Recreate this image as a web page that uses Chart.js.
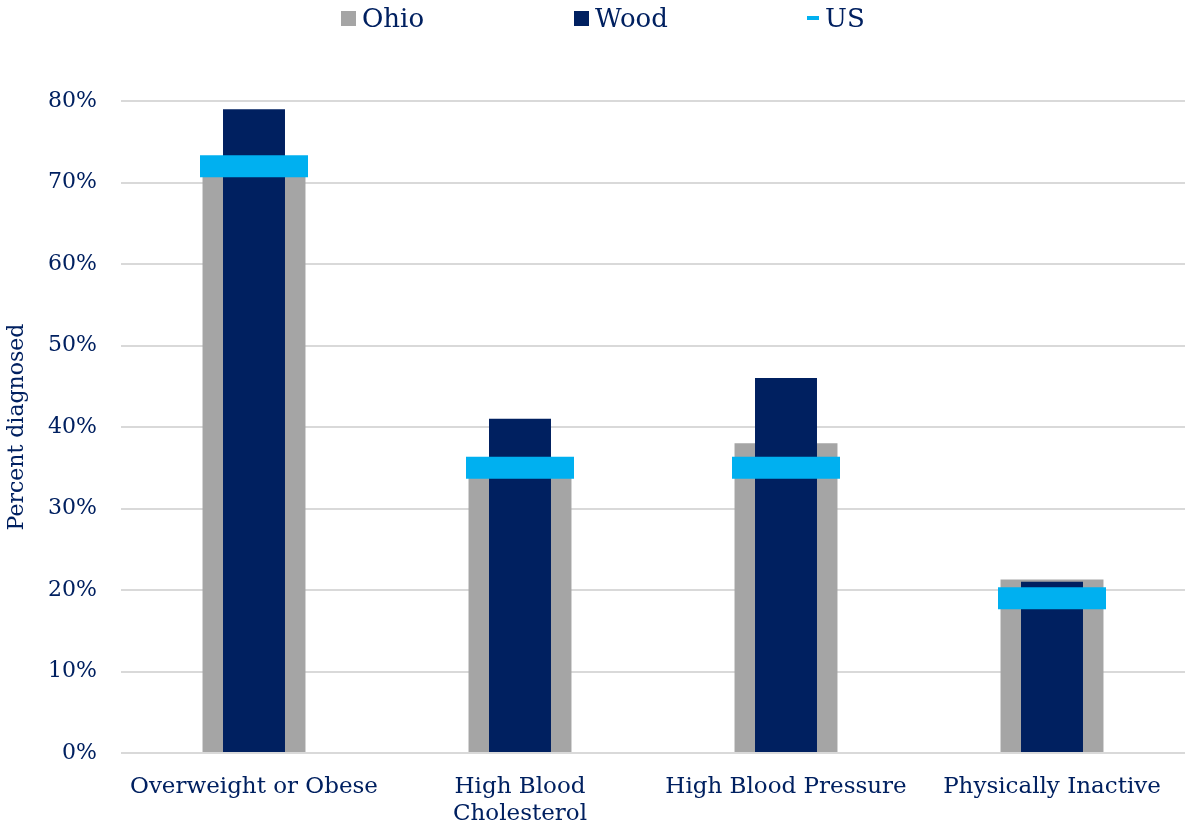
<!DOCTYPE html>
<html>
<head>
<meta charset="utf-8">
<script src="https://cdn.jsdelivr.net/npm/chart.js@4.4.1/dist/chart.umd.min.js"></script>
<style>
  html, body { margin: 0; padding: 0; background: #fff; }
  #wrap { position: relative; width: 1185px; height: 829px; }
  #legend {
    position: absolute; top: 0; left: 341px; height: 36px;
    display: flex; align-items: center;
    font-family: "DejaVu Serif", serif; font-size: 26px; color: #002060;
  }
  #legend .item { width: 233px; display: flex; align-items: center; }
  #legend .swatch { width: 15px; height: 15px; margin-right: 6px; }
  #legend .swatch.dash { width: 12px; height: 4px; }
</style>
</head>
<body>
<div id="wrap">
  <canvas id="chart" width="1185" height="829"></canvas>
  <div id="legend"></div>
</div>
<script>
const categories = ['Overweight or Obese', ['High Blood', 'Cholesterol'], 'High Blood Pressure', 'Physically Inactive'];
const ohioValues = [71, 34, 38, 21.3];
const woodValues = [79, 41, 46, 21];
const usValues = [72, 35, 35, 19];
const seriesNames = ['Ohio', 'Wood', 'US'];

const TEXT = '#002060';
const OHIO = '#a5a5a5';
const WOOD = '#002060';
const US = '#00b0f0';
const FONT = '"DejaVu Serif", serif';

// legend drawn as html so the three entries sit on an even spacing
const legendEl = document.getElementById('legend');
[[seriesNames[0], OHIO, false], [seriesNames[1], WOOD, false], [seriesNames[2], US, true]].forEach(([name, color, dash]) => {
  const item = document.createElement('div');
  item.className = 'item';
  const sw = document.createElement('span');
  sw.className = 'swatch' + (dash ? ' dash' : '');
  sw.style.background = color;
  const label = document.createElement('span');
  label.textContent = name;
  item.appendChild(sw);
  item.appendChild(label);
  legendEl.appendChild(item);
});

const ctx = document.getElementById('chart').getContext('2d');

new Chart(ctx, {
  type: 'bar',
  data: {
    labels: categories,
    datasets: [
      {
        label: seriesNames[0],
        data: ohioValues,
        backgroundColor: OHIO,
        grouped: false,
        categoryPercentage: 1,
        barPercentage: 0.387,
        order: 2,
      },
      {
        label: seriesNames[1],
        data: woodValues,
        backgroundColor: WOOD,
        grouped: false,
        categoryPercentage: 1,
        barPercentage: 0.233,
        order: 1,
      },
      {
        // US benchmark shown as a thick horizontal tick on each category
        type: 'line',
        label: seriesNames[2],
        data: usValues,
        showLine: false,
        pointStyle: 'line',
        pointRadius: 54,
        pointHoverRadius: 54,
        pointBorderWidth: 22,
        pointHoverBorderWidth: 22,
        pointBorderColor: US,
        borderColor: US,
        order: 0,
      },
    ],
  },
  options: {
    responsive: false,
    animation: false,
    events: [],
    // the wide US ticks would otherwise pull the plot in from the right
    layout: { autoPadding: false, padding: { top: 101, right: 0, left: 0, bottom: 0 } },
    plugins: {
      legend: { display: false },
      tooltip: { enabled: false },
    },
    scales: {
      x: {
        offset: true,
        grid: { display: false, drawTicks: false },
        border: { display: false },
        ticks: {
          color: TEXT,
          font: { family: FONT, size: 23, lineHeight: 1.17 },
          padding: 21,
          maxRotation: 0,
          autoSkip: false,
        },
        afterFit(scale) { scale.height = 76; },
      },
      y: {
        min: 0,
        max: 80,
        grid: { color: '#d9d9d9', lineWidth: 2, drawTicks: false },
        border: { display: false },
        ticks: {
          stepSize: 10,
          color: TEXT,
          padding: 24,
          font: { family: FONT, size: 22 },
          callback: (v) => v + '%',
        },
        title: {
          display: true,
          text: 'Percent diagnosed',
          color: TEXT,
          font: { family: FONT, size: 22 },
          padding: { top: 4, bottom: 4 },
        },
        afterFit(scale) { scale.width = 121; },
      },
    },
  },
});
</script>
</body>
</html>
